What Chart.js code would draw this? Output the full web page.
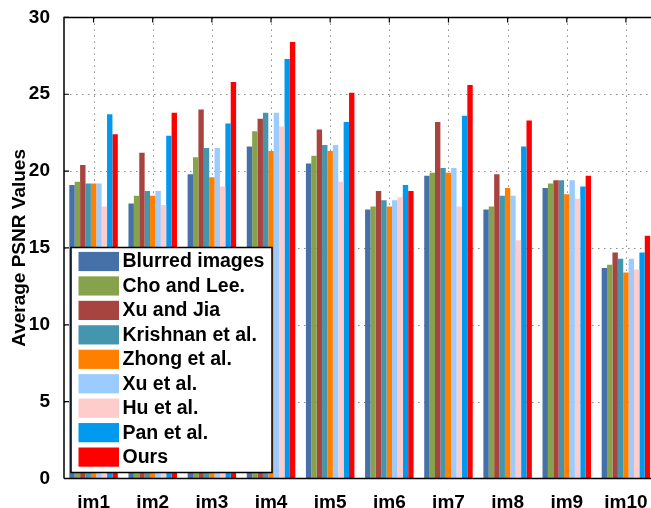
<!DOCTYPE html>
<html><head><meta charset="utf-8">
<script src="https://cdn.jsdelivr.net/npm/chart.js@4/dist/chart.umd.min.js"></script>
<style>
html,body{margin:0;padding:0;overflow:hidden;background:#fff;width:651px;height:508px}
#wrap{position:relative;width:660px;height:508px}
</style></head><body>
<div id="wrap"><canvas id="c" width="660" height="508"></canvas></div>
<script>
// ---- data ----
const categories = ['im1','im2','im3','im4','im5','im6','im7','im8','im9','im10'];
const seriesNames = ['Blurred images','Cho and Lee.','Xu and Jia','Krishnan et al.','Zhong et al.','Xu et al.','Hu et al.','Pan et al.','Ours'];
const blurred  = [19.1, 17.9, 19.8, 21.6, 20.5, 17.5, 19.7, 17.5, 18.9, 13.7];
const choLee   = [19.3, 18.4, 20.9, 22.6, 21.0, 17.7, 19.9, 17.7, 19.2, 13.9];
const xuJia    = [20.4, 21.2, 24.0, 23.4, 22.7, 18.7, 23.2, 19.8, 19.4, 14.7];
const krishnan = [19.2, 18.7, 21.5, 23.8, 21.7, 18.1, 20.2, 18.4, 19.4, 14.3];
const zhong    = [19.2, 18.4, 19.6, 21.3, 21.3, 17.7, 19.9, 18.9, 18.5, 13.4];
const xuEtAl   = [19.2, 18.7, 21.5, 23.8, 21.7, 18.1, 20.2, 18.4, 19.4, 14.3];
const huEtAl   = [17.7, 17.8, 19.0, 22.9, 19.3, 18.3, 17.7, 15.5, 18.2, 13.6];
const panEtAl  = [23.7, 22.3, 23.1, 27.3, 23.2, 19.1, 23.6, 21.6, 19.0, 14.7];
const ours     = [22.4, 23.8, 25.8, 28.4, 25.1, 18.7, 25.6, 23.3, 19.7, 15.8];
const yMin = 0, yMax = 30, yStep = 5;

// ---- styles ----
const seriesValues = [blurred, choLee, xuJia, krishnan, zhong, xuEtAl, huEtAl, panEtAl, ours];
const colors = ['#4570A8','#86A34B','#A8443F','#4396AD','#FF8000','#9CCBFF','#FFCCCC','#0099EE','#FF0000'];
const FONT = "'Liberation Sans', Arial, Helvetica, sans-serif";

const dottedGridPlugin = {
  id: 'dottedGrid',
  beforeDatasetsDraw(chart) {
    const {ctx, chartArea: a, scales} = chart;
    ctx.save();
    ctx.strokeStyle = '#8a8a8a';
    ctx.lineWidth = 1;
    ctx.setLineDash([1.5, 4.5]);
    ctx.beginPath();
    scales.y.ticks.forEach(t => {
      if (t.value <= yMin || t.value >= yMax) return;
      const y = Math.round(scales.y.getPixelForValue(t.value)) + 0.5;
      ctx.moveTo(a.left, y); ctx.lineTo(a.right, y);
    });
    categories.forEach((c, i) => {
      const x = Math.round(scales.x.getPixelForValue(i)) + 0.5;
      ctx.moveTo(x, a.top); ctx.lineTo(x, a.bottom);
    });
    ctx.stroke();
    ctx.restore();
  }
};

const framePlugin = {
  id: 'frame',
  afterDatasetsDraw(chart) {
    const {ctx, chartArea: a, scales} = chart;
    ctx.save();
    ctx.strokeStyle = '#000';
    ctx.lineWidth = 1.5;
    ctx.beginPath();
    ctx.moveTo(a.left, a.bottom); ctx.lineTo(a.right, a.bottom);
    ctx.moveTo(a.left, a.bottom); ctx.lineTo(a.left, a.top);
    ctx.lineTo(a.right, a.top); ctx.lineTo(a.right, a.bottom);
    ctx.stroke();
    ctx.lineWidth = 1.2;
    ctx.beginPath();
    scales.y.ticks.forEach(t => {
      const y = scales.y.getPixelForValue(t.value);
      ctx.moveTo(a.left, y); ctx.lineTo(a.left + 5, y);
    });
    categories.forEach((c, i) => {
      const x = scales.x.getPixelForValue(i);
      ctx.moveTo(x, a.top); ctx.lineTo(x, a.top + 5);
    });
    ctx.stroke();
    ctx.restore();
  }
};

const legendPlugin = {
  id: 'boxLegend',
  afterDraw(chart) {
    const ctx = chart.ctx;
    const bx = 71, by = 247.5, bw = 201, bh = 225;
    ctx.save();
    ctx.fillStyle = '#fff';
    ctx.fillRect(bx, by, bw, bh);
    ctx.strokeStyle = '#000';
    ctx.lineWidth = 1.5;
    ctx.strokeRect(bx, by, bw, bh);
    ctx.font = 'bold 19.5px ' + FONT;
    ctx.textBaseline = 'middle';
    ctx.textAlign = 'left';
    chart.data.datasets.forEach((ds, i) => {
      const cy = 261.5 + i * 24.45;
      ctx.fillStyle = ds.backgroundColor;
      ctx.fillRect(78.5, cy - 9.6, 40.5, 19.2);
      ctx.fillStyle = '#000';
      ctx.fillText(ds.label, 122.5, cy + 0.5);
    });
    ctx.restore();
  }
};

new Chart(document.getElementById('c'), {
  type: 'bar',
  data: {
    labels: categories,
    datasets: seriesValues.map((vals, i) => ({
      label: seriesNames[i],
      data: vals,
      backgroundColor: colors[i],
      borderWidth: 0,
      categoryPercentage: 0.82,
      barPercentage: 1.0
    }))
  },
  options: {
    responsive: false,
    animation: false,
    devicePixelRatio: 1,
    layout: { padding: { top: 12.3, right: 4.5, bottom: 0, left: 0 } },
    plugins: { legend: { display: false }, tooltip: { enabled: false } },
    scales: {
      x: {
        offset: true,
        grid: { display: false },
        border: { display: false },
        ticks: { font: { family: FONT, size: 19, weight: 'bold' }, color: '#000', padding: 5, maxRotation: 0, autoSkip: false },
        afterFit(s) { s.height = 29.5; }
      },
      y: {
        min: yMin, max: yMax,
        grid: { display: false },
        border: { display: false },
        ticks: { stepSize: yStep, font: { family: FONT, size: 19, weight: 'bold' }, color: '#000', padding: 6 },
        title: { display: true, text: 'Average PSNR Values', font: { family: FONT, size: 19, weight: 'bold' }, color: '#000', padding: { top: 8, bottom: 0 } },
        afterFit(s) { s.width = 64; }
      }
    }
  },
  plugins: [dottedGridPlugin, framePlugin, legendPlugin]
});
</script>
</body></html>
